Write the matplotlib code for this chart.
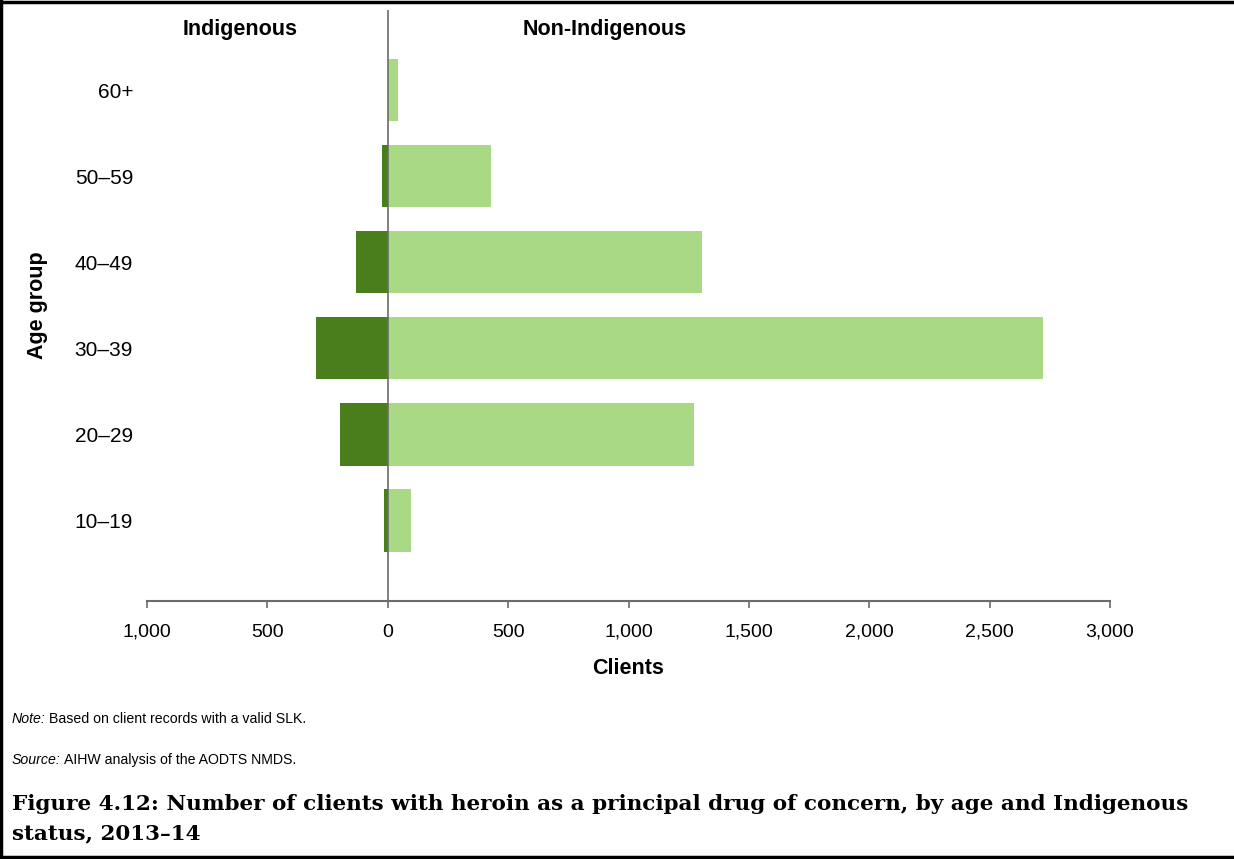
import numpy as np
import matplotlib
matplotlib.use("Agg")
import matplotlib.pyplot as plt
from matplotlib.ticker import FuncFormatter
from matplotlib.lines import Line2D

# values
ages = ['10–19', '20–29', '30–39', '40–49', '50–59', '60+']
indigenous = [15, 198, 297, 131, 25, 0]
non_indigenous = [97, 1272, 2723, 1306, 430, 44]
x_ticks = [-1000, -500, 0, 500, 1000, 1500, 2000, 2500, 3000]

dark_green = '#4a7e1d'
light_green = '#a9d985'
axis_grey = '#6b6b6b'

plt.rcParams['font.family'] = ['Liberation Sans', 'DejaVu Sans']

fig = plt.figure(figsize=(12.34, 8.59), dpi=100)
ax = fig.add_axes([147/1234, 1 - 601/859, (1110 - 147)/1234, (601 - 10)/859])

y = np.arange(len(ages))
ax.barh(y, -np.array(indigenous), height=0.73, color=dark_green, edgecolor='none')
ax.barh(y, non_indigenous, height=0.73, color=light_green, edgecolor='none')

ax.set_xlim(-1000, 3000)
ax.set_ylim(-0.94, 5.93)
ax.axvline(0, color=axis_grey, lw=1.2, zorder=3)

ax.set_xticks(x_ticks)
ax.xaxis.set_major_formatter(FuncFormatter(lambda v, p: f'{abs(int(v)):,}'))
ax.set_yticks(y)
ax.set_yticklabels(ages)
ax.tick_params(axis='y', length=0, pad=10, labelsize=15)
ax.tick_params(axis='x', length=5, width=1.2, color=axis_grey, pad=11.5, labelsize=14)

for s in ['top', 'right', 'left']:
    ax.spines[s].set_visible(False)
ax.spines['bottom'].set_color(axis_grey)
ax.spines['bottom'].set_linewidth(1.5)

def fx(px):
    return px / 1234

def fy(py):
    return 1 - py / 859

fig.text(fx(240), fy(30), 'Indigenous', ha='center', va='center', fontsize=15.5, fontweight='bold')
fig.text(fx(605), fy(30), 'Non-Indigenous', ha='center', va='center', fontsize=15.5, fontweight='bold')
fig.text(fx(38), fy(305), 'Age group', ha='center', va='center', rotation=90, fontsize=15.5, fontweight='bold')
fig.text(fx(628), fy(669), 'Clients', ha='center', va='center', fontsize=15.5, fontweight='bold')

renderer = fig.canvas.get_renderer()

def mixed(px, py, lead, rest):
    t = fig.text(fx(px), fy(py), lead, ha='left', va='center', fontsize=10.2, style='italic')
    bb = t.get_window_extent(renderer=renderer)
    fig.text(fx(px) + bb.width / 1234 + 3/1234, fy(py), rest, ha='left', va='center', fontsize=10.2)

mixed(12, 719, 'Note:', 'Based on client records with a valid SLK.')
mixed(12, 760, 'Source:', 'AIHW analysis of the AODTS NMDS.')

fig.text(fx(12), fy(804), 'Figure 4.12: Number of clients with heroin as a principal drug of concern, by age and Indigenous',
         ha='left', va='center', fontsize=15.45, fontweight='bold', family='DejaVu Serif')
fig.text(fx(12), fy(833), 'status, 2013–14',
         ha='left', va='center', fontsize=15.45, fontweight='bold', family='DejaVu Serif')

# frame round the figure
for xs, ys in [([0, 1], [0.998, 0.998]), ([0.0012, 0.0012], [0, 1]), ([0, 1], [0.002, 0.002])]:
    fig.add_artist(Line2D(xs, ys, transform=fig.transFigure, color='black', lw=2.5))

fig.savefig('out.png', dpi=100)
